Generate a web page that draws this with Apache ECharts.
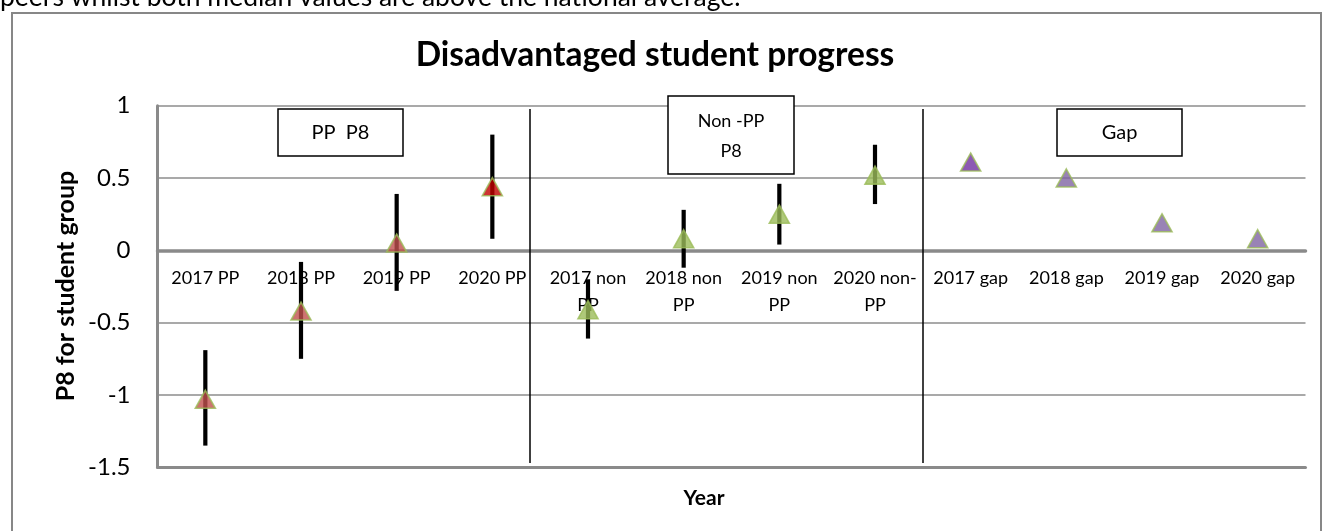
<!DOCTYPE html>
<html>
<head>
<meta charset="utf-8">
<script src="https://cdn.jsdelivr.net/npm/echarts@6/dist/echarts.min.js"></script>
<style>
html,body{margin:0;padding:0;background:#fff;}
#chart{width:1323px;height:531px;}
</style>
</head>
<body>
<div id="chart"></div>
<script>
// ---- data ----
const categories = ['2017 PP','2018 PP','2019 PP','2020 PP',
  '2017 non PP','2018 non PP','2019 non PP','2020 non-PP',
  '2017 gap','2018 gap','2019 gap','2020 gap'];
const tickLabels = ['2017 PP','2018 PP','2019 PP','2020 PP',
  '2017 non\nPP','2018 non\nPP','2019 non\nPP','2020 non-\nPP',
  '2017 gap','2018 gap','2019 gap','2020 gap'];
const yTicks = [-1.5, -1, -0.5, 0, 0.5, 1];

const ppCats = ['2017 PP','2018 PP','2019 PP','2020 PP'];
const ppValues = [-1.03, -0.42, 0.05, 0.44];
const ppLow = [-1.35, -0.75, -0.28, 0.08];
const ppHigh = [-0.69, -0.08, 0.39, 0.80];

const nonPpCats = ['2017 non PP','2018 non PP','2019 non PP','2020 non-PP'];
const nonPpValues = [-0.41, 0.08, 0.25, 0.52];
const nonPpLow = [-0.61, -0.12, 0.04, 0.32];
const nonPpHigh = [-0.20, 0.28, 0.46, 0.73];

const gapCats = ['2017 gap','2018 gap','2019 gap','2020 gap'];
const gapValues = [0.61, 0.50, 0.19, 0.08];

// ---- styles ----
const ppColors = ['#C0504D','#C0504D','#C0504D','#C00000'];
const gapColors = ['#7030A0','#8064A2','#8064A2','#8064A2'];
const green = '#9BBB59';
const FONT = 'Lato, "Liberation Sans", sans-serif';

const chart = echarts.init(document.getElementById('chart'), null, {renderer:'canvas'});

function errData(cats, lo, hi){ return cats.map((c,i)=>[c, lo[i], hi[i]]); }
const errorBars = errData(ppCats, ppLow, ppHigh).concat(errData(nonPpCats, nonPpLow, nonPpHigh));

const markerSize = [20, 18];

// grid layout
const gridTop = 105.7, gridBottom = 63.7, H = 531;
const gridH = H - gridTop - gridBottom;
const yMin = yTicks[0], yMax = yTicks[yTicks.length-1];
const zeroOffset = -gridH * (0 - yMin) / (yMax - yMin); // move category axis up to y = 0

chart.setOption({
  animation:false,
  backgroundColor:'#fff',
  grid:{left:157.5, right:17.5, top:gridTop, bottom:gridBottom, containLabel:false},
  xAxis:[{
    type:'category', data:categories, boundaryGap:true, position:'bottom', offset:zeroOffset,
    axisLine:{show:true, onZero:false, lineStyle:{color:'#8a8a8a', width:3.5}},
    axisTick:{show:false},
    splitLine:{show:false},
    axisLabel:{interval:0, margin:14, color:'#000', fontFamily:FONT, fontSize:18, lineHeight:27,
      formatter:(v,i)=>tickLabels[i]}
  },{
    type:'category', data:categories, position:'bottom',
    axisLine:{show:true, onZero:false, lineStyle:{color:'#8a8a8a', width:3}},
    axisTick:{show:false}, axisLabel:{show:false}, splitLine:{show:false}
  }],
  yAxis:{
    type:'value', min:yMin, max:yMax, interval:0.5,
    axisLine:{show:true, lineStyle:{color:'#8a8a8a', width:3}},
    axisTick:{show:false},
    splitLine:{show:true, lineStyle:{color:'#8c8c8c', width:1.5}},
    axisLabel:{margin:27, color:'#000', fontFamily:FONT, fontSize:24}
  },
  series:[
    {
      type:'custom', xAxisIndex:0, data:errorBars, encode:{x:0, y:[1,2]}, z:3,
      renderItem:(params, api)=>{
        const x = api.value(0);
        const p1 = api.coord([x, api.value(1)]);
        const p2 = api.coord([x, api.value(2)]);
        return {type:'line', shape:{x1:p1[0], y1:p1[1], x2:p2[0], y2:p2[1]},
          style:{stroke:'#000', lineWidth:4.2}};
      }
    },
    {
      type:'scatter', name:'PP P8', symbol:'triangle', symbolSize:markerSize, z:5,
      data: ppCats.map((c,i)=>({value:[c, ppValues[i]], itemStyle:{color:ppColors[i], borderColor:green, borderWidth:1.6}}))
    },
    {
      type:'scatter', name:'Non-PP P8', symbol:'triangle', symbolSize:markerSize, z:5,
      data: nonPpCats.map((c,i)=>({value:[c, nonPpValues[i]], itemStyle:{color:green, borderColor:green, borderWidth:1.6}}))
    },
    {
      type:'scatter', name:'Gap', symbol:'triangle', symbolSize:markerSize, z:5,
      data: gapCats.map((c,i)=>({value:[c, gapValues[i]], itemStyle:{color:gapColors[i], borderColor:green, borderWidth:1.6}}))
    }
  ],
  graphic:[
    {type:'text', x:0, y:-3, style:{text:'peers whilst both median values are above the national average.', font:'26.5px '+FONT, fill:'#000', verticalAlign:'middle', align:'left'}, z:10},
    {type:'rect', shape:{x:12, y:13, width:1309, height:530}, style:{fill:'none', stroke:'#878787', lineWidth:2}, z:10},
    {type:'text', x:655, y:55, style:{text:'Disadvantaged student progress', font:'bold 33.5px '+FONT, fill:'#000', align:'center', verticalAlign:'middle'}, z:10},
    {type:'text', x:66, y:286, rotation:Math.PI/2, style:{text:'P8 for student group', font:'bold 25px '+FONT, fill:'#000', align:'center', verticalAlign:'middle'}, z:10},
    {type:'text', x:704, y:498, style:{text:'Year', font:'bold 21px '+FONT, fill:'#000', align:'center', verticalAlign:'middle'}, z:10},
    {type:'line', shape:{x1:530, y1:109, x2:530, y2:463}, style:{stroke:'#000', lineWidth:1.5}, z:4},
    {type:'line', shape:{x1:923, y1:109, x2:923, y2:463}, style:{stroke:'#000', lineWidth:1.5}, z:4},
    {type:'rect', shape:{x:278, y:109, width:125, height:47}, style:{fill:'#fff', stroke:'#000', lineWidth:1.5}, z:6},
    {type:'text', x:340.5, y:132.5, style:{text:'PP  P8', font:'20px '+FONT, fill:'#000', align:'center', verticalAlign:'middle'}, z:7},
    {type:'rect', shape:{x:668, y:96, width:126, height:78}, style:{fill:'#fff', stroke:'#000', lineWidth:1.5}, z:6},
    {type:'text', x:731, y:121, style:{text:'Non -PP', font:'18px '+FONT, fill:'#000', align:'center', verticalAlign:'middle'}, z:7},
    {type:'text', x:731, y:151, style:{text:'P8', font:'18px '+FONT, fill:'#000', align:'center', verticalAlign:'middle'}, z:7},
    {type:'rect', shape:{x:1057, y:109, width:125, height:47}, style:{fill:'#fff', stroke:'#000', lineWidth:1.5}, z:6},
    {type:'text', x:1119.5, y:132.5, style:{text:'Gap', font:'20px '+FONT, fill:'#000', align:'center', verticalAlign:'middle'}, z:7}
  ]
});
</script>
</body>
</html>
